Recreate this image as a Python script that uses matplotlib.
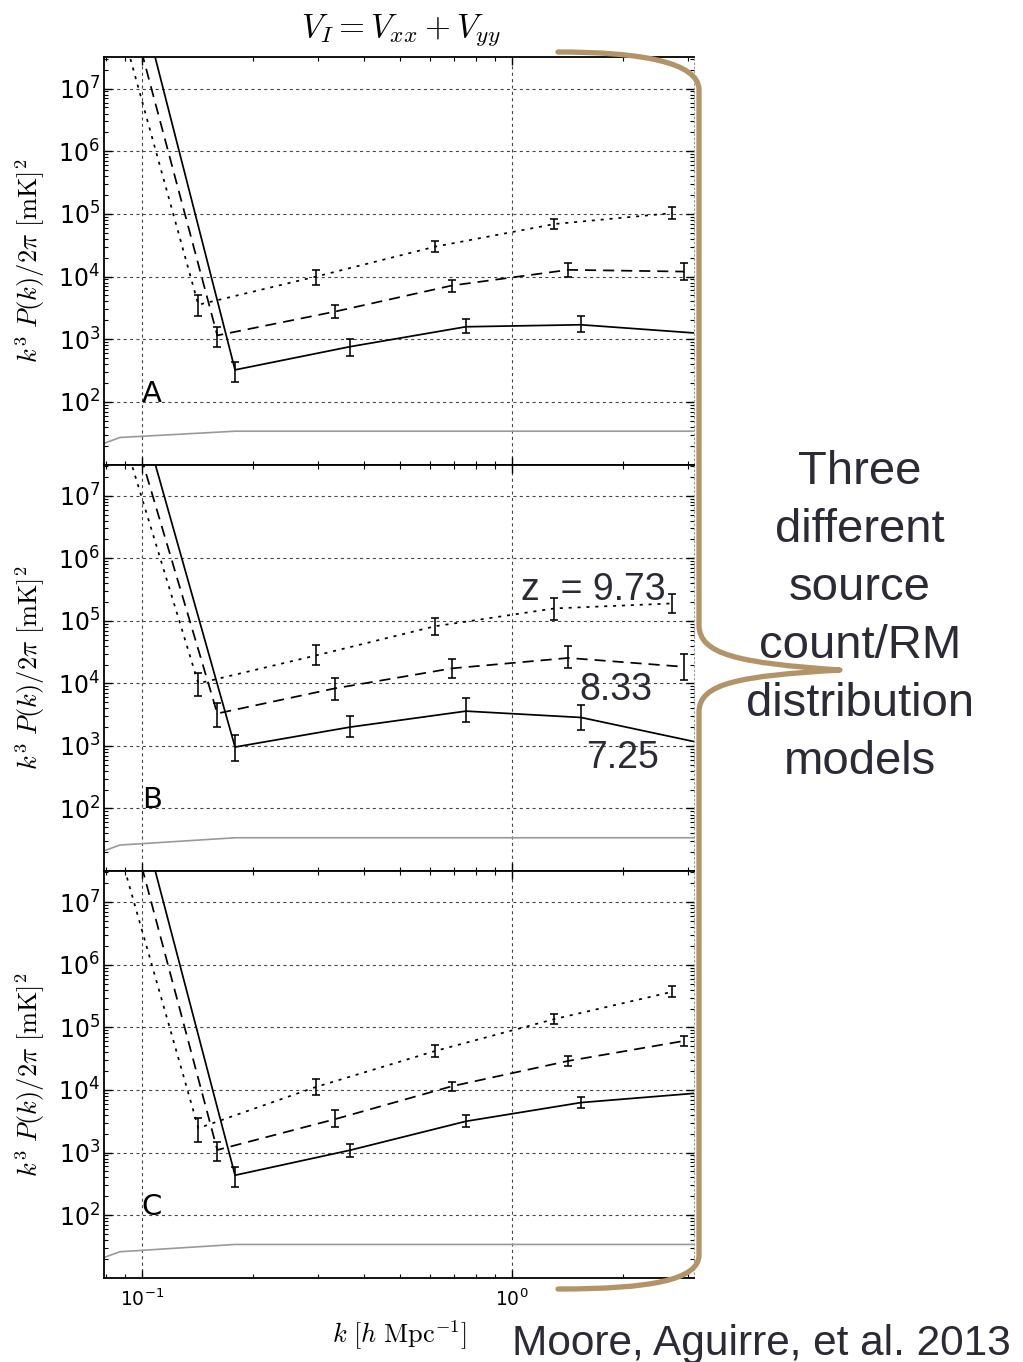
import matplotlib
matplotlib.use("Agg")
import matplotlib.pyplot as plt
from matplotlib.path import Path
from matplotlib.patches import PathPatch
from matplotlib.ticker import LogLocator, NullFormatter

plt.rcParams["font.family"] = "DejaVu Sans"
plt.rcParams["mathtext.fontset"] = "cm"
plt.rcParams["lines.scale_dashes"] = False

# ---- wavenumber grids (h/Mpc) for the three redshifts ----
k_z973 = [0.0684, 0.1422, 0.296, 0.621, 1.305, 2.72]
k_z833 = [0.0771, 0.160, 0.332, 0.690, 1.424, 2.93]
k_z725 = [0.0873, 0.1787, 0.3656, 0.752, 1.54, 3.16]
k_noise = [0.043, 0.0873, 0.1787, 3.16]

# ---- model A ----
A_z973 = [2.2e10, 3550, 10000, 30000, 69000, 103000]
A_z973_lo = [2350, 7400, 25000, 58000, 83000]
A_z973_hi = [5100, 12900, 37000, 83000, 129000]
A_z833 = [1.2e10, 1150, 2750, 7200, 12800, 12000]
A_z833_lo = [740, 2200, 5600, 10000, 8900]
A_z833_hi = [1590, 3550, 8900, 16400, 16400]
A_z725 = [5.0e9, 324, 760, 1580, 1700, 1250]
A_z725_lo = [211, 543, 1250, 1320]
A_z725_hi = [440, 1000, 2090, 2370]
A_noise = [5.7, 27, 34, 34]

# ---- model B ----
B_z973 = [1.5e10, 10000, 28000, 82000, 158000, 190000]
B_z973_lo = [6400, 19500, 59000, 105000, 135000]
B_z973_hi = [14500, 41000, 110000, 235000, 270000]
B_z833 = [6.9e9, 3300, 8300, 17400, 25500, 18400]
B_z833_lo = [2000, 5500, 12000, 17400, 11300]
B_z833_hi = [4900, 12000, 24500, 40000, 30000]
B_z725 = [3.2e9, 960, 2000, 3600, 2850, 1150]
B_z725_lo = [570, 1390, 2400, 1780]
B_z725_hi = [1490, 3000, 5800, 4500]
B_noise = [5.7, 26, 34, 34]

# ---- model C ----
C_z973 = [9.8e9, 2450, 11200, 42000, 136000, 372000]
C_z973_lo = [1500, 8300, 34000, 112000, 309000]
C_z973_hi = [3550, 15100, 52800, 163000, 464000]
C_z833 = [1.2e10, 1100, 3400, 11500, 29200, 61000]
C_z833_lo = [720, 2570, 9500, 24300, 50800]
C_z833_hi = [1500, 4800, 13500, 34700, 73500]
C_z725 = [4.5e9, 434, 1090, 3160, 6300, 8900]
C_z725_lo = [282, 850, 2570, 5100]
C_z725_hi = [590, 1390, 3950, 7800]
C_noise = [5.7, 26, 34, 34]

panel_labels = ["A", "B", "C"]
z_labels = ["z  = 9.73", "8.33", "7.25"]
side_note = "Three\ndifferent\nsource\ncount/RM\ndistribution\nmodels"
credit = "Moore, Aguirre, et al. 2013"

W, H = 1023, 1362
fig = plt.figure(figsize=(W / 100, H / 100), dpi=100)

TAN = "#b29468"
NOTE = "#2b2b36"
DASHED = (0, (8, 5))
DOTTED = (0, (2.2, 4.2))


def fx(px):
    return px / W


def fy(py):
    return 1 - py / H


panels = [
    (A_z973, A_z973_lo, A_z973_hi, A_z833, A_z833_lo, A_z833_hi,
     A_z725, A_z725_lo, A_z725_hi, A_noise),
    (B_z973, B_z973_lo, B_z973_hi, B_z833, B_z833_lo, B_z833_hi,
     B_z725, B_z725_lo, B_z725_hi, B_noise),
    (C_z973, C_z973_lo, C_z973_hi, C_z833, C_z833_lo, C_z833_hi,
     C_z725, C_z725_lo, C_z725_hi, C_noise),
]
tops = [57.3, 464.5, 871.0]
bottoms = [464.5, 871.0, 1277.7]
left_px, right_px = 104.3, 694.0

axes = []
for i, data in enumerate(panels):
    (d9, d9lo, d9hi, d8, d8lo, d8hi, d7, d7lo, d7hi, noise) = data
    ax = fig.add_axes([fx(left_px), fy(bottoms[i]),
                       fx(right_px - left_px), (bottoms[i] - tops[i]) / H])
    axes.append(ax)
    ax.set_xscale("log")
    ax.set_yscale("log")

    # model curves
    ax.plot(k_z973, d9, color="k", lw=1.25, ls=DOTTED)
    ax.plot(k_z833, d8, color="k", lw=1.25, ls=DASHED)
    ax.plot(k_z725, d7, color="k", lw=1.25, ls="-")
    ax.plot(k_noise, noise, color="#999999", lw=1.2)

    # error bars on the measured bins
    for ks, vals, lo, hi in ((k_z973, d9, d9lo, d9hi),
                             (k_z833, d8, d8lo, d8hi),
                             (k_z725, d7, d7lo, d7hi)):
        n = len(lo)
        kk = ks[1:1 + n]
        vv = vals[1:1 + n]
        yerr = [[v - l for v, l in zip(vv, lo)], [h - v for v, h in zip(vv, hi)]]
        ax.errorbar(kk, vv, yerr=yerr, fmt="none", ecolor="k",
                    elinewidth=1.15, capsize=3.2, capthick=1.15)

    ax.set_xlim(0.0792, 3.11)
    ax.set_ylim(10, 10 ** 7.5)
    ax.set_yticks([1e2, 1e3, 1e4, 1e5, 1e6, 1e7])
    ax.yaxis.set_minor_locator(LogLocator(base=10, subs=range(2, 10), numticks=20))
    ax.yaxis.set_minor_formatter(NullFormatter())
    ax.xaxis.set_minor_locator(LogLocator(base=10, subs=range(2, 10), numticks=20))
    ax.xaxis.set_minor_formatter(NullFormatter())

    ax.grid(True, which="major", color="#444444", lw=0.8, ls=(0, (2.2, 2.4)))
    ax.set_axisbelow(True)
    ax.tick_params(which="both", direction="in", top=True, right=True)
    ax.tick_params(which="major", length=6, width=1.0)
    ax.tick_params(which="minor", length=3, width=0.8)
    ax.tick_params(axis="y", labelsize=17, pad=3)
    ax.tick_params(axis="x", labelsize=13.5, pad=8)
    for side in ("left", "top", "bottom"):
        ax.spines[side].set_linewidth(1.3)
    ax.spines["right"].set_linewidth(0.8)
    ax.spines["right"].set_color("#999999")
    ax.spines["right"].set_linestyle((0, (1, 2)))
    if i < 2:
        ax.tick_params(axis="x", labelbottom=False)

    ax.set_ylabel(r"$k^3\ P(k)/2\pi\ [\mathrm{mK}]^2$", fontsize=19)
    ax.yaxis.set_label_coords(-0.097, 0.5)
    ax.text(0.1, 100, panel_labels[i], fontsize=21, ha="left", va="baseline")

fig.text(fx(401), fy(30), r"$V_I = V_{xx} + V_{yy}$", fontsize=24,
         ha="center", va="center")
fig.text(fx(399), fy(1335), r"$k\ [h\ \mathrm{Mpc}^{-1}]$", fontsize=19,
         ha="center", va="center")

# redshift annotations inside model B
note_font = dict(family="Liberation Sans", color=NOTE)
fig.text(fx(521), fy(600), z_labels[0], fontsize=27, ha="left", va="baseline", **note_font)
fig.text(fx(579), fy(700), z_labels[1], fontsize=27, ha="left", va="baseline", **note_font)
fig.text(fx(586), fy(768), z_labels[2], fontsize=27, ha="left", va="baseline", **note_font)

fig.text(fx(860), fy(617), side_note, fontsize=34, ha="center", va="center",
         linespacing=1.41, **note_font)
fig.text(fx(512), fy(1355), credit, fontsize=30.5, ha="left", va="baseline", **note_font)

# curly brace grouping the three panels
pts = [
    (558, 52), (640, 52), (699, 62), (699, 90),
    (699, 625),
    (699, 655), (740, 663), (840, 670),
    (740, 676), (699, 683), (699, 712),
    (699, 1255),
    (699, 1280), (650, 1289), (558, 1289),
]
codes = [Path.MOVETO, Path.CURVE4, Path.CURVE4, Path.CURVE4,
         Path.LINETO,
         Path.CURVE4, Path.CURVE4, Path.CURVE4,
         Path.CURVE4, Path.CURVE4, Path.CURVE4,
         Path.LINETO,
         Path.CURVE4, Path.CURVE4, Path.CURVE4]
brace = Path([(fx(x), fy(y)) for x, y in pts], codes)
fig.add_artist(PathPatch(brace, fill=False, edgecolor=TAN, lw=3.8,
                         capstyle="round", joinstyle="round",
                         transform=fig.transFigure))

fig.savefig("out.png", dpi=100)
